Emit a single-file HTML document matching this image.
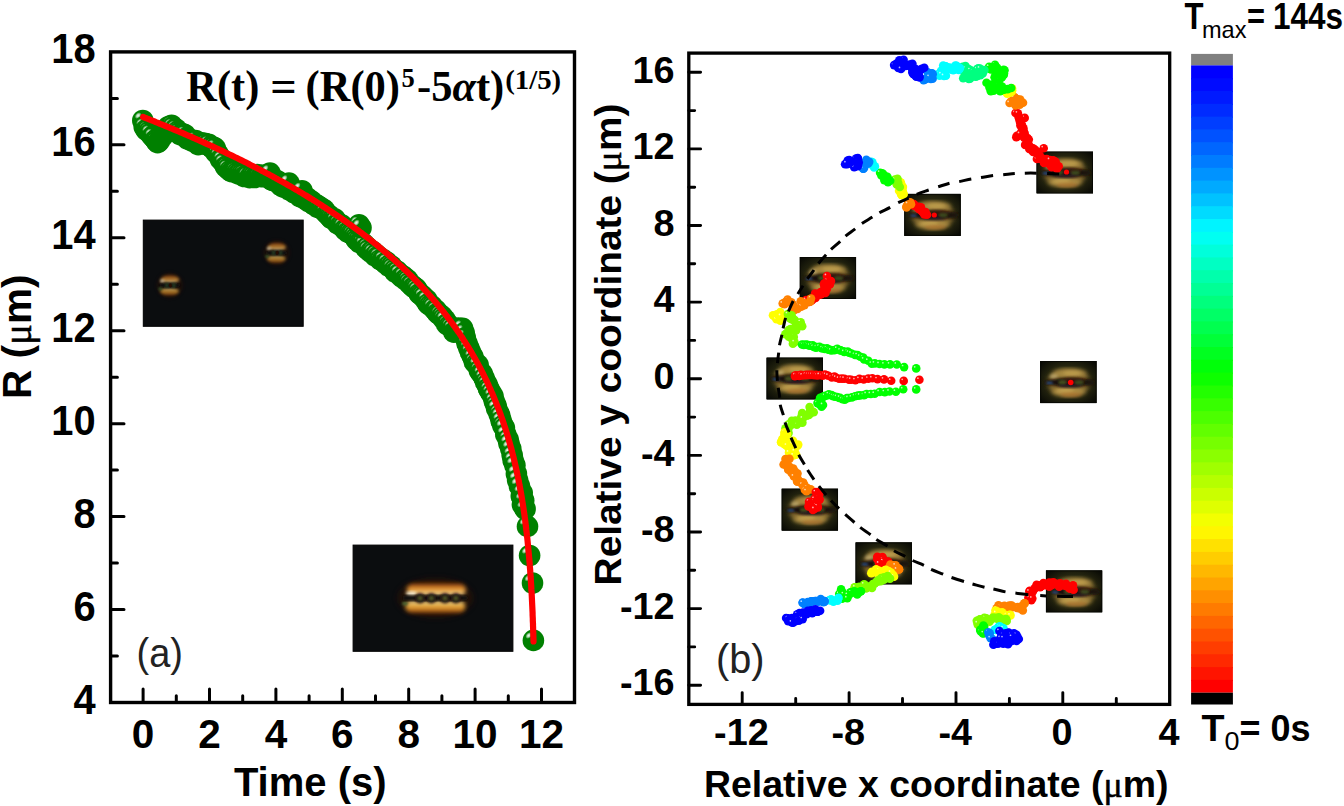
<!DOCTYPE html>
<html><head><meta charset="utf-8"><title>figure</title>
<style>html,body{margin:0;padding:0;background:#fff}svg{display:block}</style>
</head><body>
<svg width="1344" height="806" viewBox="0 0 1344 806">
<defs>
<filter id="b1" x="-30%" y="-30%" width="160%" height="160%"><feGaussianBlur stdDeviation="1"/></filter>
<filter id="b15" x="-30%" y="-30%" width="160%" height="160%"><feGaussianBlur stdDeviation="1.5"/></filter>
<filter id="b2" x="-30%" y="-30%" width="160%" height="160%"><feGaussianBlur stdDeviation="2.2"/></filter>
<filter id="b3" x="-30%" y="-30%" width="160%" height="160%"><feGaussianBlur stdDeviation="3.2"/></filter>
<filter id="b06" x="-30%" y="-30%" width="160%" height="160%"><feGaussianBlur stdDeviation="0.6"/></filter>
<radialGradient id="hg"><stop offset="0" stop-color="#fff" stop-opacity=".95"/><stop offset=".45" stop-color="#fff" stop-opacity=".7"/><stop offset="1" stop-color="#fff" stop-opacity="0"/></radialGradient>
<g id="gc"><circle r="10.8" fill="#008000"/><ellipse cx="-4.7" cy="-4.9" rx="3.9" ry="2.7" transform="rotate(-45 -4.7 -4.9)" fill="url(#hg)"/></g>
<g id="d"><circle r="4.3"/><circle cx="-1.5" cy="-1.6" r="0.85" fill="#fff" opacity=".7"/></g>
<circle id="e" r="4.3"/>
<clipPath id="ic"><rect width="56.6" height="42.2"/></clipPath>
<radialGradient id="ig" cx="50%" cy="50%" r="66%"><stop offset="0" stop-color="#45421d"/><stop offset=".5" stop-color="#2c2c12"/><stop offset="1" stop-color="#090a05"/></radialGradient>
<g id="ins" clip-path="url(#ic)"><rect width="56.6" height="42.2" fill="#0a0b05"/><rect width="56.6" height="42.2" fill="url(#ig)"/><ellipse cx="28.6" cy="21.4" rx="17.5" ry="9.4" fill="none" stroke="#7c622c" stroke-width="8" filter="url(#b2)"/><ellipse cx="29.5" cy="12.6" rx="17" ry="4.4" fill="#a98a42" filter="url(#b2)"/><ellipse cx="28.5" cy="30.6" rx="17" ry="4.6" fill="#ac8c43" filter="url(#b2)"/><ellipse cx="32" cy="12" rx="9" ry="2.2" fill="#c9a852" filter="url(#b15)" opacity=".6"/><ellipse cx="25" cy="29.8" rx="9" ry="2.2" fill="#ccaa56" filter="url(#b15)" opacity=".6"/><ellipse cx="31" cy="33.6" rx="11" ry="2.2" fill="#b06e2c" filter="url(#b15)" opacity=".6"/><ellipse cx="13.5" cy="15.5" rx="4" ry="2.8" fill="#dcc88c" filter="url(#b15)" opacity=".55"/><ellipse cx="30" cy="21.4" rx="25" ry="3.8" fill="#150c08" filter="url(#b15)"/><ellipse cx="49" cy="21.4" rx="5" ry="3.6" fill="#1a1209" filter="url(#b15)" opacity=".8"/><ellipse cx="7" cy="21.4" rx="4" ry="3" fill="#1a1209" filter="url(#b15)" opacity=".6"/><ellipse cx="33" cy="19.4" rx="12" ry="3" fill="#3c170a" filter="url(#b15)" opacity=".75"/><ellipse cx="30" cy="24.2" rx="12" ry="2.1" fill="#26122a" filter="url(#b15)" opacity=".7"/><ellipse cx="22.3" cy="21.2" rx="4.2" ry="2.3" fill="#434e1e" filter="url(#b1)"/><ellipse cx="39" cy="21.4" rx="4.6" ry="2.3" fill="#3b471b" filter="url(#b1)"/><ellipse cx="9.5" cy="21.9" rx="3.4" ry="1.2" fill="#2a5494" filter="url(#b1)" opacity=".85"/><rect x=".5" y=".5" width="55.6" height="41.2" fill="none" stroke="#070803" stroke-width="1"/></g>
<linearGradient id="bunU" x1="0" y1="0" x2="0" y2="1"><stop offset="0" stop-color="#7c2c0a"/><stop offset=".3" stop-color="#cf7a22"/><stop offset=".65" stop-color="#eeb04a"/><stop offset="1" stop-color="#f8ecc0"/></linearGradient>
<linearGradient id="bunL" x1="0" y1="0" x2="0" y2="1"><stop offset="0" stop-color="#f4e6ac"/><stop offset=".35" stop-color="#e8b040"/><stop offset=".7" stop-color="#d08424"/><stop offset="1" stop-color="#7c2c0a"/></linearGradient>
</defs>
<rect width="1344" height="806" fill="#fff"/>
<g>
<use href="#gc" x="142.8" y="120.5"/>
<use href="#gc" x="144.2" y="126.8"/>
<use href="#gc" x="146" y="129.8"/>
<use href="#gc" x="147.6" y="130"/>
<use href="#gc" x="149" y="131.7"/>
<use href="#gc" x="150.2" y="133.5"/>
<use href="#gc" x="152.4" y="136.3"/>
<use href="#gc" x="153.3" y="136.8"/>
<use href="#gc" x="155.5" y="139.8"/>
<use href="#gc" x="156.4" y="141.1"/>
<use href="#gc" x="157.6" y="142.7"/>
<use href="#gc" x="159.3" y="141"/>
<use href="#gc" x="160.6" y="137.3"/>
<use href="#gc" x="162.8" y="136.1"/>
<use href="#gc" x="164.1" y="133.3"/>
<use href="#gc" x="165.4" y="132.4"/>
<use href="#gc" x="166.6" y="130.1"/>
<use href="#gc" x="168.2" y="126.7"/>
<use href="#gc" x="169.9" y="126.9"/>
<use href="#gc" x="171.6" y="125.2"/>
<use href="#gc" x="172.8" y="127"/>
<use href="#gc" x="174.7" y="129.4"/>
<use href="#gc" x="176" y="129"/>
<use href="#gc" x="177.8" y="131.2"/>
<use href="#gc" x="178.7" y="132.9"/>
<use href="#gc" x="180.1" y="134.7"/>
<use href="#gc" x="182.2" y="133.9"/>
<use href="#gc" x="183.4" y="134.1"/>
<use href="#gc" x="185.1" y="134.7"/>
<use href="#gc" x="186.5" y="137.9"/>
<use href="#gc" x="187.7" y="139"/>
<use href="#gc" x="189.5" y="139.3"/>
<use href="#gc" x="190.9" y="139.7"/>
<use href="#gc" x="192.8" y="141.3"/>
<use href="#gc" x="194.1" y="141"/>
<use href="#gc" x="195.6" y="140.5"/>
<use href="#gc" x="197.4" y="143.2"/>
<use href="#gc" x="198.2" y="144.6"/>
<use href="#gc" x="200" y="143.6"/>
<use href="#gc" x="201.3" y="142.7"/>
<use href="#gc" x="202.5" y="143.5"/>
<use href="#gc" x="204.6" y="143.4"/>
<use href="#gc" x="205.6" y="143.9"/>
<use href="#gc" x="207.7" y="145"/>
<use href="#gc" x="208.8" y="144.4"/>
<use href="#gc" x="210.7" y="146.6"/>
<use href="#gc" x="212.2" y="148.2"/>
<use href="#gc" x="213.2" y="147.1"/>
<use href="#gc" x="215.2" y="148.1"/>
<use href="#gc" x="216" y="152.7"/>
<use href="#gc" x="217.5" y="153.1"/>
<use href="#gc" x="219.3" y="156.1"/>
<use href="#gc" x="220.6" y="159.4"/>
<use href="#gc" x="222.2" y="159.7"/>
<use href="#gc" x="223.8" y="163.1"/>
<use href="#gc" x="225.5" y="166.5"/>
<use href="#gc" x="226.9" y="166.6"/>
<use href="#gc" x="227.8" y="168.6"/>
<use href="#gc" x="230" y="170.7"/>
<use href="#gc" x="231.5" y="171.6"/>
<use href="#gc" x="232.6" y="170.9"/>
<use href="#gc" x="234.4" y="170.7"/>
<use href="#gc" x="235.3" y="171.4"/>
<use href="#gc" x="236.9" y="172.7"/>
<use href="#gc" x="238.3" y="173.8"/>
<use href="#gc" x="239.9" y="173.2"/>
<use href="#gc" x="241.6" y="174"/>
<use href="#gc" x="243.6" y="174.2"/>
<use href="#gc" x="244.3" y="176.5"/>
<use href="#gc" x="246" y="175.8"/>
<use href="#gc" x="247.3" y="176.1"/>
<use href="#gc" x="249.7" y="177.7"/>
<use href="#gc" x="250.7" y="176.5"/>
<use href="#gc" x="251.8" y="175.3"/>
<use href="#gc" x="253.4" y="176.1"/>
<use href="#gc" x="254.8" y="177.5"/>
<use href="#gc" x="257.1" y="174.6"/>
<use href="#gc" x="257.8" y="175.9"/>
<use href="#gc" x="259.2" y="175.7"/>
<use href="#gc" x="261.6" y="175.4"/>
<use href="#gc" x="262.8" y="176.8"/>
<use href="#gc" x="264" y="175.3"/>
<use href="#gc" x="265.9" y="175.3"/>
<use href="#gc" x="267.4" y="176.9"/>
<use href="#gc" x="268.3" y="176.8"/>
<use href="#gc" x="270.6" y="179.1"/>
<use href="#gc" x="271.9" y="180"/>
<use href="#gc" x="273.3" y="180.7"/>
<use href="#gc" x="274.6" y="179.7"/>
<use href="#gc" x="275.6" y="180.9"/>
<use href="#gc" x="277.3" y="180.7"/>
<use href="#gc" x="279.2" y="182.2"/>
<use href="#gc" x="280.5" y="185.3"/>
<use href="#gc" x="282.5" y="186.1"/>
<use href="#gc" x="283.4" y="187"/>
<use href="#gc" x="284.8" y="185.4"/>
<use href="#gc" x="286.2" y="186.2"/>
<use href="#gc" x="288.4" y="188.4"/>
<use href="#gc" x="289.5" y="190"/>
<use href="#gc" x="291.3" y="190.2"/>
<use href="#gc" x="292.7" y="189.3"/>
<use href="#gc" x="294.3" y="192.8"/>
<use href="#gc" x="295.5" y="193.1"/>
<use href="#gc" x="297.3" y="192.2"/>
<use href="#gc" x="298.8" y="193.6"/>
<use href="#gc" x="299.9" y="196.5"/>
<use href="#gc" x="301.9" y="195.6"/>
<use href="#gc" x="302.6" y="197.5"/>
<use href="#gc" x="304.1" y="196.5"/>
<use href="#gc" x="306.3" y="199.9"/>
<use href="#gc" x="307.8" y="198.3"/>
<use href="#gc" x="309.1" y="201.9"/>
<use href="#gc" x="310.5" y="200.8"/>
<use href="#gc" x="311.4" y="201"/>
<use href="#gc" x="313.6" y="204.7"/>
<use href="#gc" x="315.3" y="204.2"/>
<use href="#gc" x="316.8" y="205"/>
<use href="#gc" x="317.6" y="207.4"/>
<use href="#gc" x="319.2" y="206.7"/>
<use href="#gc" x="321" y="207.8"/>
<use href="#gc" x="322.3" y="209"/>
<use href="#gc" x="324.3" y="209.8"/>
<use href="#gc" x="325.3" y="212"/>
<use href="#gc" x="327.3" y="214.1"/>
<use href="#gc" x="328.8" y="215"/>
<use href="#gc" x="329.9" y="216.6"/>
<use href="#gc" x="330.9" y="218"/>
<use href="#gc" x="332.5" y="218.9"/>
<use href="#gc" x="334.6" y="218.7"/>
<use href="#gc" x="335.8" y="220.5"/>
<use href="#gc" x="337.4" y="223.5"/>
<use href="#gc" x="338.8" y="223.5"/>
<use href="#gc" x="340.6" y="225.4"/>
<use href="#gc" x="341.9" y="225.1"/>
<use href="#gc" x="343.1" y="226.7"/>
<use href="#gc" x="344.8" y="229.5"/>
<use href="#gc" x="346.5" y="229.9"/>
<use href="#gc" x="347.7" y="232.2"/>
<use href="#gc" x="349.3" y="232.4"/>
<use href="#gc" x="351" y="233.3"/>
<use href="#gc" x="352.3" y="234.4"/>
<use href="#gc" x="354.2" y="235.8"/>
<use href="#gc" x="355.6" y="237.8"/>
<use href="#gc" x="356.5" y="239.9"/>
<use href="#gc" x="358.7" y="240.1"/>
<use href="#gc" x="359.4" y="242.5"/>
<use href="#gc" x="361.2" y="241.7"/>
<use href="#gc" x="362.5" y="243"/>
<use href="#gc" x="364.4" y="244.5"/>
<use href="#gc" x="366.1" y="248.2"/>
<use href="#gc" x="367.4" y="247.3"/>
<use href="#gc" x="368.3" y="250.1"/>
<use href="#gc" x="370.7" y="252"/>
<use href="#gc" x="372.1" y="251"/>
<use href="#gc" x="373.2" y="252.8"/>
<use href="#gc" x="375" y="255.9"/>
<use href="#gc" x="376.1" y="254.4"/>
<use href="#gc" x="377.5" y="256.7"/>
<use href="#gc" x="379" y="256.8"/>
<use href="#gc" x="380.2" y="259.7"/>
<use href="#gc" x="382.1" y="260.4"/>
<use href="#gc" x="383.5" y="259.9"/>
<use href="#gc" x="385.1" y="263"/>
<use href="#gc" x="387.1" y="262.4"/>
<use href="#gc" x="388.6" y="266"/>
<use href="#gc" x="389.4" y="265"/>
<use href="#gc" x="391.4" y="266"/>
<use href="#gc" x="392.2" y="268"/>
<use href="#gc" x="394.5" y="269.7"/>
<use href="#gc" x="395.3" y="272.2"/>
<use href="#gc" x="397.5" y="271.3"/>
<use href="#gc" x="398.8" y="274"/>
<use href="#gc" x="399.6" y="273.7"/>
<use href="#gc" x="401.5" y="276.9"/>
<use href="#gc" x="403.5" y="276.3"/>
<use href="#gc" x="404.9" y="279.4"/>
<use href="#gc" x="406.4" y="278.9"/>
<use href="#gc" x="407.9" y="280.2"/>
<use href="#gc" x="408.9" y="282.8"/>
<use href="#gc" x="411" y="284.5"/>
<use href="#gc" x="411.6" y="285"/>
<use href="#gc" x="413.3" y="287.2"/>
<use href="#gc" x="414.7" y="287.3"/>
<use href="#gc" x="416.2" y="288.5"/>
<use href="#gc" x="417.8" y="290.8"/>
<use href="#gc" x="419.3" y="293.7"/>
<use href="#gc" x="420.7" y="294.4"/>
<use href="#gc" x="422" y="295.5"/>
<use href="#gc" x="423.5" y="296.8"/>
<use href="#gc" x="425.5" y="300"/>
<use href="#gc" x="426.9" y="299.9"/>
<use href="#gc" x="428.1" y="303.9"/>
<use href="#gc" x="429.9" y="305.2"/>
<use href="#gc" x="431.8" y="305.9"/>
<use href="#gc" x="432.9" y="307.3"/>
<use href="#gc" x="434.9" y="309.9"/>
<use href="#gc" x="436.3" y="310.4"/>
<use href="#gc" x="437.6" y="313.2"/>
<use href="#gc" x="438.8" y="313.9"/>
<use href="#gc" x="440" y="314.5"/>
<use href="#gc" x="442.1" y="316.2"/>
<use href="#gc" x="443.1" y="318.6"/>
<use href="#gc" x="445.2" y="319.8"/>
<use href="#gc" x="446.6" y="324.1"/>
<use href="#gc" x="447.6" y="324"/>
<use href="#gc" x="449.3" y="325.9"/>
<use href="#gc" x="450.8" y="326.9"/>
<use href="#gc" x="452.8" y="328.6"/>
<use href="#gc" x="453.9" y="332.2"/>
<use href="#gc" x="455.8" y="331.2"/>
<use href="#gc" x="456.7" y="330.9"/>
<use href="#gc" x="458.2" y="328.1"/>
<use href="#gc" x="459.8" y="329"/>
<use href="#gc" x="461.3" y="328.5"/>
<use href="#gc" x="462.6" y="328.3"/>
<use href="#gc" x="464.2" y="332.9"/>
<use href="#gc" x="465.3" y="337.7"/>
<use href="#gc" x="467" y="343.3"/>
<use href="#gc" x="468.8" y="347.8"/>
<use href="#gc" x="470.4" y="352"/>
<use href="#gc" x="472.2" y="355.6"/>
<use href="#gc" x="473.1" y="357.4"/>
<use href="#gc" x="474.4" y="362.1"/>
<use href="#gc" x="476.4" y="364.1"/>
<use href="#gc" x="478.1" y="364.9"/>
<use href="#gc" x="479.4" y="370.5"/>
<use href="#gc" x="481.1" y="373"/>
<use href="#gc" x="482.3" y="374"/>
<use href="#gc" x="484.1" y="378.1"/>
<use href="#gc" x="485.6" y="382.1"/>
<use href="#gc" x="487.1" y="384.5"/>
<use href="#gc" x="488.4" y="388"/>
<use href="#gc" x="489.2" y="389.8"/>
<use href="#gc" x="491.1" y="392.9"/>
<use href="#gc" x="493" y="396.2"/>
<use href="#gc" x="494.3" y="401.3"/>
<use href="#gc" x="495.9" y="405.1"/>
<use href="#gc" x="496.7" y="408.5"/>
<use href="#gc" x="498.9" y="413.3"/>
<use href="#gc" x="500.2" y="416.4"/>
<use href="#gc" x="501.2" y="421"/>
<use href="#gc" x="502.9" y="425.5"/>
<use href="#gc" x="504.4" y="427.8"/>
<use href="#gc" x="505.8" y="434.5"/>
<use href="#gc" x="508.1" y="439.3"/>
<use href="#gc" x="509" y="443.5"/>
<use href="#gc" x="510.8" y="448.7"/>
<use href="#gc" x="512.2" y="455.2"/>
<use href="#gc" x="513.2" y="460.6"/>
<use href="#gc" x="514.9" y="465.2"/>
<use href="#gc" x="516.4" y="473.7"/>
<use href="#gc" x="517.6" y="480.1"/>
<use href="#gc" x="519.4" y="486"/>
<use href="#gc" x="521.3" y="496"/>
<use href="#gc" x="522.4" y="504.8"/>
<use href="#gc" x="359" y="224.7"/>
<use href="#gc" x="361" y="227.7"/>
<use href="#gc" x="289" y="183.1"/>
<use href="#gc" x="302" y="190.7"/>
<use href="#gc" x="270" y="173.1"/>
<use href="#gc" x="522.2" y="493"/>
<use href="#gc" x="523.7" y="500.5"/>
<use href="#gc" x="525.1" y="509"/>
<use href="#gc" x="527.5" y="526.4"/>
<use href="#gc" x="529.6" y="555.5"/>
<use href="#gc" x="532.5" y="583"/>
<use href="#gc" x="533.4" y="640.4"/>
</g>
<path d="M533.5,641.4 L533.5,641.4 L533.5,641.3 L533.5,641.1 L533.5,640.8 L533.5,640.4 L533.5,640 L533.5,639.4 L533.4,638.8 L533.4,638 L533.4,637.2 L533.4,636.2 L533.3,635.2 L533.3,634.1 L533.3,632.8 L533.2,631.5 L533.2,630.2 L533.1,628.7 L533.1,627.2 L533,625.6 L533,623.9 L532.9,622.2 L532.8,620.5 L532.8,618.7 L532.7,616.8 L532.6,614.9 L532.6,613 L532.5,611 L532.4,609 L532.3,606.9 L532.2,604.9 L532.1,602.8 L532,600.7 L531.9,598.6 L531.8,596.4 L531.7,594.3 L531.6,592.1 L531.4,590 L531.3,587.8 L531.2,585.6 L531,583.4 L530.9,581.3 L530.8,579.1 L530.6,576.9 L530.5,574.7 L530.3,572.5 L530.2,570.3 L530,568.1 L529.8,566 L529.7,563.8 L529.5,561.6 L529.3,559.4 L529.1,557.3 L528.9,555.1 L528.7,553 L528.5,550.9 L528.3,548.7 L528.1,546.6 L527.9,544.5 L527.7,542.4 L527.5,540.3 L527.3,538.2 L527,536.1 L526.8,534 L526.6,532 L526.3,529.9 L526.1,527.9 L525.8,525.8 L525.6,523.8 L525.3,521.8 L525.1,519.8 L524.8,517.8 L524.5,515.8 L524.3,513.8 L524,511.9 L523.7,509.9 L523.4,507.9 L523.1,506 L522.8,504.1 L522.5,502.1 L522.2,500.2 L521.9,498.3 L521.6,496.4 L521.2,494.5 L520.9,492.6 L520.6,490.8 L520.2,488.9 L519.9,487 L519.5,485.2 L519.2,483.4 L518.8,481.5 L518.5,479.7 L518.1,477.9 L517.7,476.1 L517.4,474.3 L517,472.5 L516.6,470.7 L516.2,469 L515.8,467.2 L515.4,465.4 L515,463.7 L514.6,462 L514.2,460.2 L513.8,458.5 L513.4,456.8 L512.9,455.1 L512.5,453.4 L512,451.7 L511.6,450 L511.2,448.3 L510.7,446.6 L510.2,445 L509.8,443.3 L509.3,441.6 L508.8,440 L508.4,438.4 L507.9,436.7 L507.4,435.1 L506.9,433.5 L506.4,431.9 L505.9,430.3 L505.4,428.7 L504.9,427.1 L504.3,425.5 L503.8,423.9 L503.3,422.3 L502.8,420.8 L502.2,419.2 L501.7,417.6 L501.1,416.1 L500.6,414.5 L500,413 L499.4,411.5 L498.9,409.9 L498.3,408.4 L497.7,406.9 L497.1,405.4 L496.5,403.9 L495.9,402.4 L495.3,400.9 L494.7,399.4 L494.1,397.9 L493.5,396.4 L492.9,395 L492.3,393.5 L491.6,392 L491,390.6 L490.3,389.1 L489.7,387.7 L489,386.2 L488.4,384.8 L487.7,383.4 L487.1,381.9 L486.4,380.5 L485.7,379.1 L485,377.7 L484.3,376.3 L483.6,374.9 L482.9,373.5 L482.2,372.1 L481.5,370.7 L480.8,369.3 L480.1,367.9 L479.3,366.5 L478.6,365.2 L477.9,363.8 L477.1,362.4 L476.4,361.1 L475.6,359.7 L474.8,358.4 L474.1,357 L473.3,355.7 L472.5,354.3 L471.8,353 L471,351.7 L470.2,350.3 L469.4,349 L468.6,347.7 L467.8,346.4 L466.9,345.1 L466.1,343.8 L465.3,342.5 L464.5,341.2 L463.6,339.9 L462.8,338.6 L461.9,337.3 L461.1,336 L460.2,334.7 L459.4,333.4 L458.5,332.2 L457.6,330.9 L456.7,329.6 L455.8,328.4 L454.9,327.1 L454,325.8 L453.1,324.6 L452.2,323.3 L451.3,322.1 L450.4,320.8 L449.5,319.6 L448.5,318.4 L447.6,317.1 L446.7,315.9 L445.7,314.7 L444.8,313.5 L443.8,312.2 L442.8,311 L441.9,309.8 L440.9,308.6 L439.9,307.4 L438.9,306.2 L437.9,305 L436.9,303.8 L435.9,302.6 L434.9,301.4 L433.9,300.2 L432.9,299 L431.8,297.8 L430.8,296.7 L429.8,295.5 L428.7,294.3 L427.7,293.1 L426.6,292 L425.5,290.8 L424.5,289.6 L423.4,288.5 L422.3,287.3 L421.2,286.2 L420.2,285 L419.1,283.9 L418,282.7 L416.8,281.6 L415.7,280.4 L414.6,279.3 L413.5,278.1 L412.4,277 L411.2,275.9 L410.1,274.8 L408.9,273.6 L407.8,272.5 L406.6,271.4 L405.4,270.3 L404.3,269.2 L403.1,268 L401.9,266.9 L400.7,265.8 L399.5,264.7 L398.3,263.6 L397.1,262.5 L395.9,261.4 L394.7,260.3 L393.5,259.2 L392.2,258.1 L391,257 L389.8,256 L388.5,254.9 L387.3,253.8 L386,252.7 L384.7,251.6 L383.5,250.6 L382.2,249.5 L380.9,248.4 L379.6,247.3 L378.3,246.3 L377,245.2 L375.7,244.1 L374.4,243.1 L373.1,242 L371.7,241 L370.4,239.9 L369.1,238.9 L367.7,237.8 L366.4,236.8 L365,235.7 L363.7,234.7 L362.3,233.6 L360.9,232.6 L359.6,231.6 L358.2,230.5 L356.8,229.5 L355.4,228.5 L354,227.4 L352.6,226.4 L351.2,225.4 L349.7,224.4 L348.3,223.4 L346.9,222.3 L345.4,221.3 L344,220.3 L342.5,219.3 L341.1,218.3 L339.6,217.3 L338.2,216.3 L336.7,215.3 L335.2,214.3 L333.7,213.3 L332.2,212.3 L330.7,211.3 L329.2,210.3 L327.7,209.3 L326.2,208.3 L324.7,207.3 L323.1,206.3 L321.6,205.3 L320.1,204.3 L318.5,203.3 L317,202.4 L315.4,201.4 L313.8,200.4 L312.3,199.4 L310.7,198.5 L309.1,197.5 L307.5,196.5 L305.9,195.5 L304.3,194.6 L302.7,193.6 L301.1,192.6 L299.5,191.7 L297.8,190.7 L296.2,189.8 L294.6,188.8 L292.9,187.8 L291.3,186.9 L289.6,185.9 L287.9,185 L286.3,184 L284.6,183.1 L282.9,182.1 L281.2,181.2 L279.5,180.3 L277.8,179.3 L276.1,178.4 L274.4,177.4 L272.7,176.5 L270.9,175.6 L269.2,174.6 L267.5,173.7 L265.7,172.8 L264,171.8 L262.2,170.9 L260.5,170 L258.7,169.1 L256.9,168.1 L255.1,167.2 L253.3,166.3 L251.5,165.4 L249.7,164.5 L247.9,163.5 L246.1,162.6 L244.3,161.7 L242.5,160.8 L240.6,159.9 L238.8,159 L237,158.1 L235.1,157.2 L233.3,156.3 L231.4,155.4 L229.5,154.5 L227.6,153.6 L225.8,152.7 L223.9,151.8 L222,150.9 L220.1,150 L218.2,149.1 L216.3,148.2 L214.3,147.3 L212.4,146.4 L210.5,145.5 L208.5,144.6 L206.6,143.8 L204.6,142.9 L202.7,142 L200.7,141.1 L198.7,140.2 L196.8,139.4 L194.8,138.5 L192.8,137.6 L190.8,136.7 L188.8,135.9 L186.8,135 L184.8,134.1 L182.7,133.2 L180.7,132.4 L178.7,131.5 L176.6,130.6 L174.6,129.8 L172.5,128.9 L170.5,128.1 L168.4,127.2 L166.3,126.3 L164.3,125.5 L162.2,124.6 L160.1,123.8 L158,122.9 L155.9,122.1 L153.8,121.2 L151.6,120.4 L149.5,119.5 L147.4,118.7 L145.2,117.8 L143.1,117" fill="none" stroke="#f00" stroke-width="6.2" stroke-linecap="round" stroke-linejoin="round"/>
<g><rect x="143.3" y="220.1" width="159.9" height="106.2" fill="#0b0d0f" stroke="#000" stroke-width="1"/>
<g transform="translate(169.8 285.3) scale(.95) translate(-169.8 -285.3)" opacity=".88"><ellipse cx="169.8" cy="285.3" rx="13" ry="12.5" fill="#3a1406" opacity=".55" filter="url(#b2)"/><ellipse cx="170.1" cy="279.1" rx="9.6" ry="4.5" fill="url(#bunU)" filter="url(#b15)" opacity=".82"/><ellipse cx="169.5" cy="291.6" rx="9.9" ry="4.3" fill="url(#bunL)" filter="url(#b15)" opacity=".8"/><ellipse cx="161.8" cy="280.9" rx="2.5" ry="2.3" fill="#e6d4b4" filter="url(#b1)" opacity=".7"/><ellipse cx="169.8" cy="285.3" rx="11.5" ry="2.8" fill="#0c0c0c" filter="url(#b1)"/><ellipse cx="166.6" cy="285.3" rx="2" ry="2.7" fill="#2f4a27" filter="url(#b1)" opacity=".85"/><ellipse cx="174" cy="285.3" rx="2" ry="2.7" fill="#2f4a27" filter="url(#b1)" opacity=".85"/><ellipse cx="170.4" cy="285.3" rx="1.5" ry="2.2" fill="#2a0d06" filter="url(#b06)"/><ellipse cx="159.8" cy="288.9" rx="2.4" ry="1.6" fill="#3d7034" filter="url(#b1)" opacity=".7"/></g>
<g transform="translate(276.6 252.8) scale(.95) translate(-276.6 -252.8)" opacity=".88"><ellipse cx="276.6" cy="252.8" rx="13" ry="12.5" fill="#3a1406" opacity=".55" filter="url(#b2)"/><ellipse cx="276.9" cy="246.6" rx="9.6" ry="4.5" fill="url(#bunU)" filter="url(#b15)" opacity=".82"/><ellipse cx="276.3" cy="259.1" rx="9.9" ry="4.3" fill="url(#bunL)" filter="url(#b15)" opacity=".8"/><ellipse cx="268.6" cy="248.4" rx="2.5" ry="2.3" fill="#e6d4b4" filter="url(#b1)" opacity=".7"/><ellipse cx="276.6" cy="252.8" rx="11.5" ry="2.8" fill="#0c0c0c" filter="url(#b1)"/><ellipse cx="273.4" cy="252.8" rx="2" ry="2.7" fill="#2f4a27" filter="url(#b1)" opacity=".85"/><ellipse cx="280.8" cy="252.8" rx="2" ry="2.7" fill="#2f4a27" filter="url(#b1)" opacity=".85"/><ellipse cx="277.2" cy="252.8" rx="1.5" ry="2.2" fill="#2a0d06" filter="url(#b06)"/><ellipse cx="266.6" cy="256.4" rx="2.4" ry="1.6" fill="#3d7034" filter="url(#b1)" opacity=".7"/></g>
</g>
<g><rect x="353.1" y="545.1" width="159.8" height="106.2" fill="#0b0d0f" stroke="#000" stroke-width="1"/>
<ellipse cx="435.3" cy="598" rx="37" ry="19" fill="#3a1206" opacity=".6" filter="url(#b3)"/>
<rect x="406.8" y="583.6" width="59" height="12.4" rx="6.2" ry="6.2" fill="url(#bunU)" filter="url(#b2)"/>
<rect x="405.3" y="600.4" width="60" height="12.4" rx="6.2" ry="6.2" fill="url(#bunL)" filter="url(#b2)"/>
<ellipse cx="411.3" cy="593.6" rx="5.5" ry="2.2" fill="#f8f0dc" filter="url(#b15)" opacity=".9"/>
<ellipse cx="404.8" cy="603.5" rx="3" ry="2" fill="#4c6a34" filter="url(#b1)" opacity=".8"/>
<rect x="402.8" y="595.5" width="65" height="5" rx="2.5" fill="#0d0b0b" filter="url(#b15)"/>
<circle cx="420.1" cy="598.2" r="5" fill="#1d0a10" filter="url(#b15)"/>
<circle cx="420.1" cy="598.2" r="2.6" fill="#4c5825" filter="url(#b15)"/>
<circle cx="431.4" cy="598.2" r="5" fill="#1d0a10" filter="url(#b15)"/>
<circle cx="431.4" cy="598.2" r="2.6" fill="#4c5825" filter="url(#b15)"/>
<circle cx="445" cy="598.2" r="5" fill="#1d0a10" filter="url(#b15)"/>
<circle cx="445" cy="598.2" r="2.6" fill="#4c5825" filter="url(#b15)"/>
<circle cx="455.9" cy="598.2" r="5" fill="#1d0a10" filter="url(#b15)"/>
<circle cx="455.9" cy="598.2" r="2.6" fill="#4c5825" filter="url(#b15)"/>
</g>
<g stroke="#000" stroke-width="3.3" fill="none" stroke-linecap="butt">
<rect x="110.6" y="51.9" width="463.9" height="650.6" stroke-width="3.4"/>
<path d="M143.1,702.5 v-13.4 M176.3,702.5 v-6.8 M209.5,702.5 v-13.4 M242.7,702.5 v-6.8 M275.9,702.5 v-13.4 M309.1,702.5 v-6.8 M342.3,702.5 v-13.4 M375.5,702.5 v-6.8 M408.7,702.5 v-13.4 M441.9,702.5 v-6.8 M475.1,702.5 v-13.4 M508.3,702.5 v-6.8 M541.5,702.5 v-13.4 M110.6,656 h6.8 M110.6,609.6 h13.4 M110.6,563.1 h6.8 M110.6,516.6 h13.4 M110.6,470.1 h6.8 M110.6,423.7 h13.4 M110.6,377.2 h6.8 M110.6,330.7 h13.4 M110.6,284.3 h6.8 M110.6,237.8 h13.4 M110.6,191.3 h6.8 M110.6,144.8 h13.4 M110.6,98.4 h6.8" stroke-linecap="round" stroke-width="3"/>
</g>
<g font-family="Liberation Sans, sans-serif" font-weight="bold" font-size="40.5" fill="#000">
<text transform="translate(95.6 713.7) scale(.95 1)" font-size="42" text-anchor="end">4</text>
<text transform="translate(95.6 620.8) scale(.95 1)" font-size="42" text-anchor="end">6</text>
<text transform="translate(95.6 527.8) scale(.95 1)" font-size="42" text-anchor="end">8</text>
<text transform="translate(95.6 434.9) scale(.95 1)" font-size="42" text-anchor="end">10</text>
<text transform="translate(95.6 341.9) scale(.95 1)" font-size="42" text-anchor="end">12</text>
<text transform="translate(95.6 249) scale(.95 1)" font-size="42" text-anchor="end">14</text>
<text transform="translate(95.6 156) scale(.95 1)" font-size="42" text-anchor="end">16</text>
<text transform="translate(95.6 63.1) scale(.95 1)" font-size="42" text-anchor="end">18</text>
<text x="143.1" y="748.2" text-anchor="middle">0</text>
<text x="209.5" y="748.2" text-anchor="middle">2</text>
<text x="275.9" y="748.2" text-anchor="middle">4</text>
<text x="342.3" y="748.2" text-anchor="middle">6</text>
<text x="408.7" y="748.2" text-anchor="middle">8</text>
<text x="475.1" y="748.2" text-anchor="middle">10</text>
<text x="541.5" y="748.2" text-anchor="middle">12</text>
<text x="233.9" y="795.5" font-size="40">Time (s)</text>
<text transform="translate(30.9 399) rotate(-90)" font-size="40.5">R (<tspan font-weight="normal" font-family="Liberation Serif, serif" font-size="39" stroke="#000" stroke-width=".5">μ</tspan>m)</text>
</g>
<text x="136.6" y="666.8" font-family="Liberation Sans, sans-serif" font-size="40" fill="#222" textLength="46.4" lengthAdjust="spacingAndGlyphs">(a)</text>
<g font-family="Liberation Serif, serif" font-weight="bold" fill="#000" font-size="42.5" transform="translate(0 101.4) scale(1 1.04) translate(0 -101.4)">
<text x="186.3" y="101.4" textLength="73" lengthAdjust="spacingAndGlyphs">R(t)</text>
<text x="270.3" y="101.4" textLength="26.5" lengthAdjust="spacingAndGlyphs">=</text>
<text x="305.6" y="101.4">(R(0)</text>
<text x="401.6" y="88" font-size="26.5">5</text>
<text x="417" y="101.4">-5<tspan font-style="italic">α</tspan>t)</text>
<text x="505.2" y="89" font-size="27" textLength="56" lengthAdjust="spacingAndGlyphs">(1/5)</text>
</g>
<use href="#ins" x="1036.4" y="151.4"/>
<use href="#ins" x="904.2" y="193.7"/>
<use href="#ins" x="799.6" y="256.9"/>
<use href="#ins" x="766.4" y="357.4"/>
<use href="#ins" x="781.5" y="488.5"/>
<use href="#ins" x="855.4" y="542.3"/>
<use href="#ins" x="1045.8" y="570.3"/>
<use href="#ins" x="1040.1" y="361"/>
<circle cx="1066.5" cy="172" r="2.6" fill="#f00"/>
<g fill="#ff0000">
<use href="#d" x="1057" y="168.8"/><use href="#e" x="1056.8" y="168.4"/><use href="#e" x="1057.1" y="166.9"/><use href="#d" x="1058.7" y="166.2"/><use href="#e" x="1055.8" y="166.1"/><use href="#e" x="1054.7" y="161.7"/><use href="#d" x="1050.9" y="164.7"/><use href="#e" x="1051.7" y="167.1"/><use href="#e" x="1050.1" y="164.9"/><use href="#d" x="1049.5" y="163.7"/><use href="#e" x="1048" y="161.5"/><use href="#e" x="1046.8" y="159.5"/><use href="#d" x="1046.6" y="159"/><use href="#e" x="1044" y="162.9"/><use href="#e" x="1042.1" y="159.3"/><use href="#d" x="1042.9" y="158.7"/><use href="#e" x="1038.8" y="158.5"/><use href="#e" x="1039.6" y="158.6"/><use href="#d" x="1036.9" y="159"/><use href="#e" x="1039.7" y="155.4"/><use href="#e" x="1036.9" y="153.6"/><use href="#d" x="1037.8" y="152.1"/><use href="#e" x="1036" y="151.3"/><use href="#e" x="1033.1" y="152"/><use href="#d" x="1035.2" y="149.8"/><use href="#e" x="1031.5" y="150"/><use href="#e" x="1031.6" y="148.2"/><use href="#d" x="1033.1" y="148.3"/><use href="#e" x="1029.3" y="148.9"/><use href="#e" x="1029.3" y="145.6"/><use href="#d" x="1027.5" y="143.3"/><use href="#e" x="1025.1" y="144.9"/><use href="#e" x="1028.8" y="139.5"/><use href="#d" x="1024.1" y="137.6"/><use href="#e" x="1027.5" y="138"/><use href="#e" x="1025.2" y="137"/><use href="#d" x="1024.7" y="134.6"/><use href="#e" x="1024.4" y="132.9"/><use href="#e" x="1023.7" y="134.1"/><use href="#d" x="1024" y="132.1"/><use href="#e" x="1021.6" y="131.4"/><use href="#e" x="1021.9" y="132.1"/><use href="#d" x="1023.5" y="128.4"/><use href="#e" x="1021.4" y="126.2"/><use href="#e" x="1020.4" y="125.4"/><use href="#d" x="1022" y="125.3"/><use href="#e" x="1022.1" y="126.3"/><use href="#e" x="1020" y="121.9"/><use href="#d" x="1024.7" y="117.9"/><use href="#e" x="1019.4" y="119.6"/><use href="#e" x="1019.9" y="118.7"/><use href="#d" x="1018.8" y="117.4"/><use href="#e" x="1018.8" y="116.7"/><use href="#d" x="1015.5" y="113"/><use href="#d" x="1017.9" y="113.4"/>
</g>
<g fill="#ff0000">
<use href="#d" x="1043.7" y="148.2"/>
</g>
<g fill="#ff0000">
<use href="#d" x="1016.9" y="135.8"/><use href="#e" x="1016.3" y="137.2"/><use href="#e" x="1017.8" y="136.3"/><use href="#d" x="1020.8" y="134.8"/><use href="#d" x="1020" y="134"/>
</g>
<g fill="#ff0000">
<use href="#d" x="1055.7" y="161.8"/><use href="#e" x="1051.7" y="161.5"/><use href="#e" x="1053.2" y="160.2"/><use href="#d" x="1051.1" y="161.6"/><use href="#d" x="1050" y="160"/>
</g>
<g fill="#ff8000">
<use href="#d" x="1015.6" y="105.4"/><use href="#e" x="1018.4" y="103.1"/><use href="#e" x="1014.7" y="103.1"/><use href="#d" x="1015.5" y="103.1"/><use href="#e" x="1013.4" y="101.1"/><use href="#e" x="1010.9" y="101.5"/><use href="#d" x="1009.6" y="103"/><use href="#e" x="1014.7" y="97.8"/><use href="#e" x="1015.7" y="99.5"/><use href="#d" x="1016.4" y="99.6"/><use href="#e" x="1014.7" y="99.3"/><use href="#e" x="1020.2" y="99.6"/><use href="#d" x="1017.6" y="99.2"/><use href="#e" x="1018.4" y="102.5"/><use href="#e" x="1023" y="102.8"/><use href="#d" x="1019.8" y="104.7"/><use href="#e" x="1017.6" y="99.7"/><use href="#e" x="1018" y="100.6"/><use href="#d" x="1014.7" y="97.3"/><use href="#d" x="1015.5" y="98.6"/><use href="#d" x="1014" y="97.5"/>
</g>
<g fill="#ffff00">
<use href="#d" x="1012" y="88.3"/><use href="#e" x="1012.1" y="90.2"/><use href="#e" x="1011.7" y="90.2"/><use href="#d" x="1010.3" y="92.8"/><use href="#e" x="1011.8" y="91.5"/><use href="#e" x="1009.7" y="91.2"/><use href="#d" x="1007.2" y="93.7"/><use href="#d" x="1007" y="92.6"/>
</g>
<g fill="#00ff00">
<use href="#d" x="1011.2" y="88"/><use href="#e" x="1007.6" y="89.1"/><use href="#e" x="1004.2" y="89"/><use href="#d" x="1004" y="89.8"/><use href="#e" x="1002" y="86.6"/><use href="#e" x="1002.4" y="90"/><use href="#d" x="1000.2" y="91.1"/><use href="#e" x="999.3" y="89"/><use href="#e" x="999.1" y="87.3"/><use href="#d" x="996.1" y="89.2"/><use href="#e" x="997" y="88.7"/><use href="#e" x="994.9" y="87.7"/><use href="#d" x="993.6" y="90.7"/><use href="#e" x="990.8" y="91.3"/><use href="#e" x="989.7" y="87.2"/><use href="#d" x="989.8" y="88"/><use href="#e" x="986.5" y="82.8"/><use href="#e" x="989.9" y="86.4"/><use href="#d" x="991.2" y="88.5"/><use href="#e" x="991.8" y="84.5"/><use href="#e" x="994.1" y="84.1"/><use href="#d" x="996.4" y="81.2"/><use href="#e" x="994.6" y="77.3"/><use href="#e" x="997.5" y="81.1"/><use href="#d" x="998.8" y="84.1"/><use href="#e" x="998.6" y="79.9"/><use href="#e" x="998.8" y="78.1"/><use href="#d" x="999.5" y="79.2"/><use href="#e" x="1001.3" y="77.3"/><use href="#e" x="1001.8" y="77.5"/><use href="#d" x="1003.7" y="74.9"/><use href="#e" x="1004" y="73.5"/><use href="#e" x="1001.3" y="74.5"/><use href="#d" x="1003.7" y="69.7"/><use href="#e" x="1004.5" y="70.3"/><use href="#e" x="999.4" y="72.7"/><use href="#d" x="1000.9" y="72.2"/><use href="#e" x="999.5" y="71.3"/><use href="#e" x="995.7" y="73.4"/><use href="#d" x="997.4" y="70.3"/><use href="#e" x="997.3" y="69.7"/><use href="#e" x="997.2" y="67.8"/><use href="#d" x="995" y="64.7"/><use href="#e" x="993.1" y="68.6"/><use href="#e" x="994.3" y="66.8"/><use href="#d" x="990.9" y="69.4"/><use href="#d" x="989.3" y="68"/><use href="#d" x="989.1" y="66.8"/>
</g>
<g fill="#00ff80">
<use href="#d" x="984.4" y="70.1"/><use href="#e" x="983.2" y="70.2"/><use href="#e" x="981.1" y="72.3"/><use href="#d" x="980.4" y="75.3"/><use href="#e" x="982.7" y="73.5"/><use href="#e" x="977.3" y="76"/><use href="#d" x="975.5" y="76.8"/><use href="#e" x="976.7" y="76.3"/><use href="#e" x="975.3" y="74.7"/><use href="#d" x="974.3" y="74.8"/><use href="#e" x="970.9" y="76.5"/><use href="#e" x="970" y="78.7"/><use href="#d" x="969.4" y="76.6"/><use href="#e" x="968.8" y="79"/><use href="#e" x="966.7" y="76.8"/><use href="#d" x="967.3" y="76.2"/><use href="#e" x="963.2" y="78.2"/><use href="#e" x="967.9" y="70.4"/><use href="#d" x="964.3" y="72.6"/><use href="#e" x="965.4" y="71.6"/><use href="#e" x="963.3" y="67.8"/><use href="#d" x="963.5" y="69.5"/><use href="#e" x="962.7" y="66.8"/><use href="#e" x="965.5" y="66"/><use href="#d" x="966.4" y="68.8"/><use href="#e" x="968.6" y="69"/><use href="#e" x="968" y="69.9"/><use href="#d" x="970.4" y="70.1"/><use href="#e" x="971.7" y="72.6"/><use href="#e" x="974.7" y="74.5"/><use href="#d" x="973.1" y="71.8"/><use href="#e" x="971.7" y="74.4"/><use href="#e" x="975.4" y="70.8"/><use href="#d" x="978.3" y="68.2"/><use href="#e" x="979.4" y="69.3"/><use href="#d" x="977.2" y="69.1"/><use href="#d" x="980" y="68.5"/>
</g>
<g fill="#00ffff">
<use href="#d" x="960" y="68.1"/><use href="#e" x="958.7" y="70"/><use href="#e" x="957.5" y="69.2"/><use href="#d" x="957.9" y="67.1"/><use href="#e" x="956.5" y="65.8"/><use href="#e" x="955.4" y="65.5"/><use href="#d" x="953.2" y="70.1"/><use href="#e" x="953.1" y="68.3"/><use href="#e" x="949.7" y="67.5"/><use href="#d" x="950.4" y="69.5"/><use href="#e" x="949.5" y="68.4"/><use href="#e" x="947.5" y="69.3"/><use href="#d" x="945.7" y="66.2"/><use href="#e" x="946.2" y="66.8"/><use href="#e" x="943.2" y="65.5"/><use href="#d" x="943.7" y="68.3"/><use href="#e" x="945.2" y="66.8"/><use href="#e" x="946" y="70"/><use href="#d" x="944.5" y="72.1"/><use href="#e" x="944.3" y="70.3"/><use href="#e" x="944.5" y="72.4"/><use href="#d" x="941.1" y="70.8"/><use href="#e" x="939.7" y="73.6"/><use href="#e" x="939.8" y="73.3"/><use href="#d" x="939.2" y="74"/><use href="#e" x="942.9" y="70.4"/><use href="#e" x="939.6" y="75.6"/><use href="#d" x="941.4" y="74.3"/><use href="#d" x="945.9" y="75.8"/><use href="#d" x="944" y="76"/>
</g>
<g fill="#0080ff">
<use href="#d" x="932.1" y="73.4"/><use href="#e" x="930.8" y="74.5"/><use href="#e" x="931.2" y="73.6"/><use href="#d" x="932.7" y="74.2"/><use href="#e" x="927.7" y="72.2"/><use href="#e" x="931.9" y="76.7"/><use href="#d" x="929.8" y="77.9"/><use href="#e" x="932.6" y="78.7"/><use href="#e" x="927.7" y="77.5"/><use href="#d" x="930.9" y="78.9"/><use href="#e" x="929.5" y="74.2"/><use href="#e" x="927.1" y="78.4"/><use href="#d" x="929.5" y="77"/><use href="#e" x="924.3" y="79.3"/><use href="#d" x="925" y="79.5"/><use href="#d" x="923.6" y="80.2"/>
</g>
<g fill="#0000ff">
<use href="#d" x="924.3" y="67.7"/><use href="#e" x="921.9" y="68.9"/><use href="#e" x="920.7" y="69.5"/><use href="#d" x="917.1" y="72.9"/><use href="#e" x="918.8" y="71.4"/><use href="#e" x="918" y="74.6"/><use href="#d" x="916.7" y="74.2"/><use href="#e" x="919.3" y="76.5"/><use href="#e" x="918.5" y="73.9"/><use href="#d" x="919.5" y="77.5"/><use href="#e" x="916.3" y="76.6"/><use href="#e" x="915.8" y="75.9"/><use href="#d" x="913.6" y="74.1"/><use href="#e" x="914" y="73"/><use href="#e" x="912.9" y="73.5"/><use href="#d" x="912.4" y="72.2"/><use href="#e" x="912.5" y="70.4"/><use href="#e" x="915.4" y="68.9"/><use href="#d" x="911.9" y="67.5"/><use href="#e" x="912.4" y="63.8"/><use href="#e" x="910.4" y="65.6"/><use href="#d" x="909.6" y="64.5"/><use href="#e" x="910.3" y="65.2"/><use href="#e" x="909.5" y="65.7"/><use href="#d" x="906.6" y="65.6"/><use href="#e" x="905.5" y="65.9"/><use href="#e" x="904.6" y="64.4"/><use href="#d" x="903.3" y="66"/><use href="#e" x="901.3" y="65.1"/><use href="#e" x="902.4" y="64.1"/><use href="#d" x="903.6" y="59.7"/><use href="#e" x="899.3" y="60.4"/><use href="#e" x="900.1" y="67.8"/><use href="#d" x="894.1" y="65.1"/><use href="#e" x="897.5" y="65.4"/><use href="#e" x="896.6" y="63.6"/><use href="#d" x="898.3" y="67.9"/><use href="#e" x="898.4" y="67"/><use href="#e" x="900.5" y="67.7"/><use href="#d" x="901.1" y="68.2"/><use href="#d" x="901" y="69"/>
</g>
<circle cx="934.3" cy="215" r="2.6" fill="#f00"/>
<g fill="#ff0000">
<use href="#d" x="924.3" y="214.4"/><use href="#e" x="927" y="214.7"/><use href="#e" x="924.3" y="212.6"/><use href="#d" x="925.5" y="212.1"/><use href="#e" x="925.4" y="214"/><use href="#e" x="921" y="207.4"/><use href="#d" x="922.4" y="212"/><use href="#e" x="921.3" y="210.5"/><use href="#e" x="917.7" y="207.7"/><use href="#d" x="918.8" y="206.7"/><use href="#e" x="913.8" y="205.6"/><use href="#e" x="919.3" y="209.1"/><use href="#d" x="913.6" y="204.1"/><use href="#d" x="913.8" y="204.4"/>
</g>
<g fill="#ff8000">
<use href="#d" x="910.2" y="202.3"/><use href="#e" x="911" y="204.3"/><use href="#e" x="906.5" y="207.4"/><use href="#d" x="906.4" y="206.8"/><use href="#e" x="907.1" y="205.9"/><use href="#d" x="908.1" y="204"/><use href="#d" x="908" y="204"/>
</g>
<g fill="#ffff00">
<use href="#d" x="901.1" y="194.2"/><use href="#e" x="901.7" y="195.1"/><use href="#e" x="903.2" y="195"/><use href="#d" x="903.7" y="193.8"/><use href="#e" x="901.4" y="191.2"/><use href="#e" x="899.1" y="190.7"/><use href="#d" x="902.6" y="190.4"/><use href="#e" x="901.5" y="188.1"/><use href="#e" x="902.9" y="187"/><use href="#d" x="902.4" y="186.5"/><use href="#e" x="901.5" y="186.3"/><use href="#d" x="900.1" y="182.4"/><use href="#d" x="900.9" y="182.6"/>
</g>
<g fill="#80ff00">
<use href="#d" x="896.8" y="184.4"/><use href="#e" x="899.8" y="187"/><use href="#e" x="897" y="184"/><use href="#d" x="898.2" y="183.1"/><use href="#d" x="897.5" y="178.8"/><use href="#d" x="895" y="179.6"/>
</g>
<g fill="#00ff00">
<use href="#d" x="888" y="182.3"/><use href="#e" x="890.2" y="180.8"/><use href="#e" x="885.8" y="179.2"/><use href="#d" x="885.1" y="177.4"/><use href="#e" x="887.4" y="176.8"/><use href="#e" x="884.3" y="180.1"/><use href="#d" x="885" y="176.4"/><use href="#e" x="881.4" y="175.5"/><use href="#e" x="883.8" y="174.9"/><use href="#d" x="882.3" y="173.2"/><use href="#d" x="880.1" y="172.7"/>
</g>
<g fill="#00ffff">
<use href="#d" x="874.9" y="166.4"/><use href="#e" x="874.1" y="167.5"/><use href="#e" x="870.6" y="164.3"/><use href="#d" x="872.4" y="162.4"/><use href="#d" x="870.9" y="163.2"/><use href="#d" x="871.2" y="161.8"/>
</g>
<g fill="#0080ff">
<use href="#d" x="869.2" y="161.7"/><use href="#e" x="866.3" y="159.8"/><use href="#e" x="868.3" y="163.5"/><use href="#d" x="865" y="163"/><use href="#e" x="864.5" y="164.3"/><use href="#e" x="864.1" y="167.8"/><use href="#d" x="863.4" y="168.8"/><use href="#d" x="863.2" y="168.7"/>
</g>
<g fill="#0000ff">
<use href="#d" x="858" y="164.9"/><use href="#e" x="857.7" y="158.9"/><use href="#e" x="857.8" y="159.2"/><use href="#d" x="856" y="158.6"/><use href="#e" x="857.8" y="158"/><use href="#e" x="857.3" y="163.2"/><use href="#d" x="858.7" y="162.2"/><use href="#e" x="858" y="163.6"/><use href="#e" x="857.8" y="166.2"/><use href="#d" x="857.5" y="162.2"/><use href="#e" x="856.4" y="163.9"/><use href="#e" x="856.2" y="163.7"/><use href="#d" x="854.2" y="167.3"/><use href="#e" x="851.1" y="162"/><use href="#e" x="849.2" y="160"/><use href="#d" x="847.2" y="164.1"/><use href="#e" x="847.7" y="160.6"/><use href="#d" x="845.1" y="164.3"/><use href="#d" x="846.4" y="163.3"/>
</g>
<g fill="#ff0000">
<use href="#d" x="826.9" y="276"/><use href="#e" x="828.5" y="280.4"/><use href="#e" x="831" y="281.1"/><use href="#d" x="827.3" y="280.9"/><use href="#e" x="829.9" y="284.4"/><use href="#e" x="825.7" y="283.9"/><use href="#d" x="826.3" y="284.5"/><use href="#e" x="824.5" y="283.3"/><use href="#e" x="824" y="284.2"/><use href="#d" x="826.7" y="289.2"/><use href="#e" x="821.6" y="291.9"/><use href="#e" x="824.5" y="287"/><use href="#d" x="825.4" y="292.9"/><use href="#e" x="824.9" y="290.2"/><use href="#e" x="821.3" y="294.3"/><use href="#d" x="819.8" y="294.8"/><use href="#e" x="820.2" y="292.6"/><use href="#e" x="815" y="293.5"/><use href="#d" x="815.1" y="295.7"/><use href="#e" x="815.6" y="298"/><use href="#e" x="813.9" y="297.1"/><use href="#d" x="811.8" y="300.4"/><use href="#e" x="812.6" y="299.1"/><use href="#e" x="809.3" y="302"/><use href="#d" x="807.5" y="300.6"/><use href="#d" x="809.4" y="299.3"/><use href="#d" x="806" y="300"/>
</g>
<g fill="#ff8000">
<use href="#d" x="811" y="298.5"/><use href="#e" x="810.2" y="301.6"/><use href="#e" x="804.4" y="303.2"/><use href="#d" x="804.5" y="305.1"/><use href="#e" x="803.8" y="303.2"/><use href="#e" x="804.4" y="303.6"/><use href="#d" x="803.2" y="303.9"/><use href="#e" x="802.7" y="305.5"/><use href="#e" x="800.7" y="301.2"/><use href="#d" x="801.2" y="306.8"/><use href="#e" x="794.7" y="307.5"/><use href="#e" x="797.5" y="308.9"/><use href="#d" x="793.6" y="309.2"/><use href="#e" x="794" y="310.1"/><use href="#e" x="792.9" y="306.3"/><use href="#d" x="791.3" y="302.4"/><use href="#e" x="792.9" y="305.2"/><use href="#e" x="792.6" y="304.3"/><use href="#d" x="787.6" y="299.6"/><use href="#e" x="786.1" y="301.6"/><use href="#e" x="784.5" y="304.1"/><use href="#d" x="785.2" y="302.7"/><use href="#d" x="783.6" y="303.2"/><use href="#d" x="782.7" y="303.5"/>
</g>
<g fill="#ffff00">
<use href="#d" x="780.1" y="313.9"/><use href="#e" x="780.3" y="312.1"/><use href="#e" x="774.8" y="316.7"/><use href="#d" x="776.6" y="316.9"/><use href="#e" x="773" y="315.2"/><use href="#e" x="776.8" y="314.3"/><use href="#d" x="776.5" y="319.3"/><use href="#e" x="780.4" y="320.7"/><use href="#e" x="778" y="314.6"/><use href="#d" x="781.6" y="318"/><use href="#d" x="781" y="316"/>
</g>
<g fill="#80ff00">
<use href="#d" x="787.9" y="314.1"/><use href="#e" x="790.2" y="318.4"/><use href="#e" x="791.1" y="316.6"/><use href="#d" x="791.9" y="319.4"/><use href="#e" x="791.6" y="315.2"/><use href="#e" x="794.4" y="319.9"/><use href="#d" x="795" y="321.3"/><use href="#e" x="794.8" y="320.5"/><use href="#e" x="796.3" y="322.7"/><use href="#d" x="800.7" y="322.2"/><use href="#e" x="802.2" y="326.3"/><use href="#e" x="799.1" y="325.7"/><use href="#d" x="800.1" y="325.4"/><use href="#e" x="795.9" y="325"/><use href="#e" x="796.1" y="330.4"/><use href="#d" x="795.5" y="329.8"/><use href="#e" x="793.4" y="330.4"/><use href="#e" x="789.9" y="332.6"/><use href="#d" x="790.5" y="329.1"/><use href="#e" x="788.6" y="330"/><use href="#e" x="790.2" y="333.9"/><use href="#d" x="785.3" y="334.2"/><use href="#e" x="790" y="332.6"/><use href="#e" x="786.4" y="333.5"/><use href="#d" x="788.7" y="336.6"/><use href="#e" x="789.9" y="333.5"/><use href="#e" x="791.7" y="335.4"/><use href="#d" x="793.8" y="337.1"/><use href="#e" x="791.8" y="338.7"/><use href="#d" x="792.9" y="343.7"/><use href="#d" x="794.6" y="342.2"/>
</g>
<g fill="#00ff00">
<use href="#d" x="802" y="344.5"/><use href="#d" x="803.7" y="344.9"/><use href="#d" x="805.9" y="344.6"/><use href="#d" x="807.5" y="344.8"/><use href="#d" x="808.8" y="345.4"/><use href="#d" x="810.3" y="345.8"/><use href="#d" x="812.7" y="345.3"/><use href="#d" x="813.7" y="346.9"/><use href="#d" x="815.9" y="347.8"/><use href="#d" x="816.9" y="347.1"/><use href="#d" x="819.5" y="346.7"/><use href="#d" x="821.6" y="348.2"/><use href="#d" x="822.6" y="348.1"/><use href="#d" x="824.8" y="349"/><use href="#d" x="827" y="348.4"/><use href="#d" x="828.4" y="349.8"/><use href="#d" x="829.9" y="349.9"/><use href="#d" x="831.4" y="350.4"/><use href="#d" x="834.3" y="350.2"/><use href="#d" x="835.5" y="349.8"/><use href="#d" x="837.3" y="348.8"/><use href="#d" x="840.2" y="350.2"/><use href="#d" x="840.6" y="350.4"/><use href="#d" x="843.3" y="351.3"/><use href="#d" x="844.3" y="351.9"/><use href="#d" x="847.7" y="351.6"/><use href="#d" x="849.1" y="352.8"/><use href="#d" x="851.4" y="353.5"/><use href="#d" x="855" y="354.9"/><use href="#d" x="857.6" y="355.1"/><use href="#d" x="860.3" y="356.7"/><use href="#d" x="863.2" y="357.6"/><use href="#d" x="864.1" y="359.4"/><use href="#d" x="868.3" y="360.8"/><use href="#d" x="871.8" y="363.7"/><use href="#d" x="874.9" y="363.4"/><use href="#d" x="879.5" y="364"/><use href="#d" x="884.4" y="364.4"/><use href="#d" x="890" y="364.4"/><use href="#d" x="896.8" y="364.5"/><use href="#d" x="904.1" y="367.1"/><use href="#d" x="916.2" y="368.4"/>
</g>
<g fill="#ff0000">
<use href="#d" x="794.9" y="376.1"/><use href="#d" x="795.6" y="375.3"/><use href="#d" x="798" y="375.6"/><use href="#d" x="799.3" y="375.9"/><use href="#d" x="800.9" y="374.7"/><use href="#d" x="802.6" y="375.4"/><use href="#d" x="805.9" y="375.2"/><use href="#d" x="806" y="374.8"/><use href="#d" x="808.2" y="374.9"/><use href="#d" x="810.4" y="374.9"/><use href="#d" x="812.4" y="374.9"/><use href="#d" x="814.5" y="375.2"/><use href="#d" x="816.1" y="374.9"/><use href="#d" x="817.6" y="375.4"/><use href="#d" x="819.7" y="375"/><use href="#d" x="822.7" y="375.8"/><use href="#d" x="824.7" y="374.6"/><use href="#d" x="826.2" y="375"/><use href="#d" x="828.4" y="375.7"/><use href="#d" x="831.8" y="377.4"/><use href="#d" x="834.4" y="376.6"/><use href="#d" x="836.2" y="377.7"/><use href="#d" x="839.1" y="378.8"/><use href="#d" x="842" y="378.6"/><use href="#d" x="844.5" y="378.7"/><use href="#d" x="849" y="379.6"/><use href="#d" x="851.2" y="379.7"/><use href="#d" x="855.4" y="380.2"/><use href="#d" x="859.4" y="378.9"/><use href="#d" x="863.7" y="379.5"/><use href="#d" x="868.3" y="378.6"/><use href="#d" x="872.3" y="378.3"/><use href="#d" x="877.5" y="379.1"/><use href="#d" x="884" y="379.4"/><use href="#d" x="891.2" y="380.8"/><use href="#d" x="903.7" y="380.9"/><use href="#d" x="919.4" y="379.8"/>
</g>
<g fill="#00ff00">
<use href="#d" x="820.2" y="397.9"/><use href="#d" x="822.1" y="397.4"/><use href="#d" x="823.7" y="396.4"/><use href="#d" x="825.2" y="395.9"/><use href="#d" x="827.9" y="395.2"/><use href="#d" x="828.8" y="394.2"/><use href="#d" x="831.6" y="395.1"/><use href="#d" x="833.2" y="396.1"/><use href="#d" x="835.1" y="396.8"/><use href="#d" x="837.1" y="397"/><use href="#d" x="839.3" y="398"/><use href="#d" x="840.1" y="397.7"/><use href="#d" x="842.6" y="399.3"/><use href="#d" x="844.8" y="399.6"/><use href="#d" x="846.9" y="398.1"/><use href="#d" x="848.5" y="398"/><use href="#d" x="851.9" y="397.4"/><use href="#d" x="855.1" y="396.3"/><use href="#d" x="857.8" y="395.6"/><use href="#d" x="860.1" y="395.4"/><use href="#d" x="864" y="395.1"/><use href="#d" x="866.6" y="394"/><use href="#d" x="870.8" y="394"/><use href="#d" x="874.7" y="393.8"/><use href="#d" x="879.6" y="392"/><use href="#d" x="884.8" y="392.1"/><use href="#d" x="889.5" y="391.5"/><use href="#d" x="895.9" y="391.8"/><use href="#d" x="903.2" y="389.3"/><use href="#d" x="916.2" y="389.4"/>
</g>
<g fill="#00ff00">
<use href="#d" x="820.5" y="400.1"/><use href="#e" x="820" y="402.7"/><use href="#e" x="819.8" y="399.2"/><use href="#d" x="817.5" y="403.1"/><use href="#e" x="821.1" y="401.8"/><use href="#e" x="819.6" y="404.3"/><use href="#d" x="821.6" y="406.8"/><use href="#d" x="823" y="405"/>
</g>
<g fill="#80ff00">
<use href="#d" x="812.6" y="411.5"/><use href="#e" x="809.6" y="407.1"/><use href="#e" x="813.7" y="412.3"/><use href="#d" x="811.2" y="412.6"/><use href="#e" x="810.2" y="410.9"/><use href="#e" x="810.1" y="413.1"/><use href="#d" x="809" y="415"/><use href="#e" x="802.2" y="413"/><use href="#e" x="806.9" y="415.8"/><use href="#d" x="802.8" y="417.1"/><use href="#e" x="801.5" y="416.2"/><use href="#e" x="801.3" y="418.1"/><use href="#d" x="802.8" y="418.5"/><use href="#e" x="802.4" y="422.7"/><use href="#e" x="801.1" y="422.2"/><use href="#d" x="797" y="421.3"/><use href="#e" x="795.5" y="420.5"/><use href="#e" x="794.6" y="421.6"/><use href="#d" x="796.8" y="424.7"/><use href="#e" x="791.8" y="420.9"/><use href="#e" x="791.6" y="424.7"/><use href="#d" x="788.7" y="424.2"/><use href="#e" x="785.5" y="428.4"/><use href="#d" x="788.6" y="433.1"/><use href="#d" x="788.5" y="428.5"/>
</g>
<g fill="#ffff00">
<use href="#d" x="784.6" y="432.2"/><use href="#e" x="787.1" y="434.1"/><use href="#e" x="784.4" y="434.4"/><use href="#d" x="782.6" y="439.3"/><use href="#e" x="785.3" y="441"/><use href="#e" x="782.4" y="439.1"/><use href="#d" x="781.1" y="442.2"/><use href="#e" x="781.1" y="442.1"/><use href="#e" x="787.1" y="444.3"/><use href="#d" x="784.4" y="444.2"/><use href="#e" x="786.1" y="441.3"/><use href="#e" x="786.2" y="445.3"/><use href="#d" x="793.2" y="442.2"/><use href="#e" x="789.9" y="443"/><use href="#e" x="797.5" y="445.8"/><use href="#d" x="793" y="440.7"/><use href="#e" x="794.1" y="446.6"/><use href="#e" x="798.2" y="444.5"/><use href="#d" x="792.2" y="444.8"/><use href="#e" x="788.8" y="448.2"/><use href="#e" x="789.2" y="449.3"/><use href="#d" x="786.9" y="445.6"/><use href="#e" x="790.5" y="447.5"/><use href="#e" x="792.1" y="450.2"/><use href="#d" x="789" y="452.5"/><use href="#e" x="793.5" y="448.9"/><use href="#e" x="796.1" y="454.6"/><use href="#d" x="794.7" y="451.3"/><use href="#d" x="793.6" y="455.4"/>
</g>
<g fill="#ff8000">
<use href="#d" x="786.2" y="459.6"/><use href="#e" x="789.4" y="458.9"/><use href="#e" x="785.5" y="459.1"/><use href="#d" x="786.5" y="465"/><use href="#e" x="783.6" y="464.5"/><use href="#e" x="788.2" y="469.7"/><use href="#d" x="789.6" y="466.9"/><use href="#e" x="787.2" y="466.5"/><use href="#e" x="789.3" y="469.3"/><use href="#d" x="791.6" y="473"/><use href="#e" x="793.3" y="468.6"/><use href="#e" x="796.7" y="473.3"/><use href="#d" x="794.6" y="471.3"/><use href="#e" x="791.5" y="471.9"/><use href="#e" x="797.5" y="473.5"/><use href="#d" x="793.9" y="476.5"/><use href="#e" x="797.6" y="478.5"/><use href="#e" x="799.1" y="481.1"/><use href="#d" x="797.1" y="481.4"/><use href="#e" x="797.7" y="481.8"/><use href="#e" x="800.8" y="482"/><use href="#d" x="803.2" y="482.5"/><use href="#e" x="804.3" y="485.3"/><use href="#e" x="803.4" y="483.6"/><use href="#d" x="802.4" y="484.7"/><use href="#e" x="804" y="486.9"/><use href="#e" x="810.7" y="489.4"/><use href="#d" x="807.1" y="487.7"/><use href="#d" x="804.9" y="490"/><use href="#d" x="806.5" y="491.1"/>
</g>
<g fill="#ff0000">
<use href="#d" x="815.8" y="492.1"/><use href="#e" x="819.3" y="494.1"/><use href="#e" x="819.2" y="491.8"/><use href="#d" x="817.9" y="497.8"/><use href="#e" x="819.2" y="499.4"/><use href="#e" x="819.6" y="499.6"/><use href="#d" x="814.5" y="498.9"/><use href="#e" x="812.7" y="502.4"/><use href="#e" x="816.8" y="501.8"/><use href="#d" x="813.7" y="502"/><use href="#e" x="817.8" y="507.4"/><use href="#e" x="813.3" y="507.5"/><use href="#d" x="809" y="501.7"/><use href="#e" x="809.8" y="504"/><use href="#e" x="808.5" y="506.4"/><use href="#d" x="816.5" y="505.5"/><use href="#e" x="812" y="508"/><use href="#e" x="812.9" y="509.9"/><use href="#d" x="817.5" y="506.5"/><use href="#d" x="814.4" y="509"/>
</g>
<g fill="#ff0000">
<use href="#d" x="877.3" y="559.2"/><use href="#e" x="878.9" y="557.7"/><use href="#e" x="877.3" y="556.8"/><use href="#d" x="881.8" y="560.5"/><use href="#e" x="882.5" y="557.1"/><use href="#e" x="883.2" y="559.6"/><use href="#d" x="883.1" y="559.6"/><use href="#e" x="887.4" y="561.8"/><use href="#e" x="887.7" y="562"/><use href="#d" x="888.1" y="561.6"/><use href="#e" x="887.7" y="562.8"/><use href="#e" x="886.3" y="562.3"/><use href="#d" x="885" y="562.1"/><use href="#e" x="887" y="564.2"/><use href="#e" x="883.1" y="566.7"/><use href="#d" x="883.2" y="561.3"/><use href="#d" x="880.8" y="564.7"/><use href="#d" x="879.1" y="563.5"/>
</g>
<g fill="#ff8000">
<use href="#d" x="890.6" y="567.8"/><use href="#e" x="890.4" y="564.6"/><use href="#e" x="889.4" y="566.8"/><use href="#d" x="892.7" y="565.2"/><use href="#e" x="892.8" y="566.2"/><use href="#e" x="894.8" y="567.4"/><use href="#d" x="895.6" y="565.4"/><use href="#e" x="899.1" y="569.5"/><use href="#e" x="898.6" y="568.9"/><use href="#d" x="898.9" y="569.2"/><use href="#d" x="898" y="568.1"/><use href="#d" x="897" y="569.5"/>
</g>
<g fill="#ffff00">
<use href="#d" x="872" y="571.9"/><use href="#e" x="871.3" y="573.2"/><use href="#e" x="876.8" y="572.8"/><use href="#d" x="878" y="571.2"/><use href="#e" x="876.1" y="569.3"/><use href="#e" x="876.8" y="570.2"/><use href="#d" x="879.2" y="570.9"/><use href="#e" x="877.8" y="573.4"/><use href="#e" x="885.1" y="570.3"/><use href="#d" x="884.2" y="571.2"/><use href="#e" x="885" y="570.4"/><use href="#e" x="885.8" y="569.8"/><use href="#d" x="887.5" y="571.3"/><use href="#e" x="888.6" y="571"/><use href="#e" x="889.2" y="573.2"/><use href="#d" x="891" y="572.6"/><use href="#e" x="891.8" y="576.2"/><use href="#e" x="893.2" y="575.1"/><use href="#d" x="892.8" y="576.1"/><use href="#d" x="894" y="576.8"/>
</g>
<g fill="#80ff00">
<use href="#d" x="890" y="578.6"/><use href="#e" x="887.6" y="576.1"/><use href="#e" x="887.1" y="577.9"/><use href="#d" x="884.1" y="577.2"/><use href="#e" x="884" y="579.8"/><use href="#e" x="881.3" y="578"/><use href="#d" x="882.5" y="578.3"/><use href="#e" x="880.7" y="581.2"/><use href="#e" x="879.2" y="579.8"/><use href="#d" x="878.1" y="581.4"/><use href="#e" x="877.4" y="581.3"/><use href="#e" x="877.3" y="580.7"/><use href="#d" x="874.3" y="583.7"/><use href="#e" x="874.7" y="583.5"/><use href="#e" x="872.9" y="584.1"/><use href="#d" x="872" y="588"/><use href="#e" x="869.2" y="586.8"/><use href="#e" x="867.1" y="587.8"/><use href="#d" x="868.8" y="586.6"/><use href="#e" x="864.2" y="587.3"/><use href="#e" x="866" y="588.4"/><use href="#d" x="864.2" y="584.4"/><use href="#e" x="860.8" y="589.1"/><use href="#e" x="858.7" y="588.8"/><use href="#d" x="861.7" y="588.4"/><use href="#e" x="859.2" y="586.8"/><use href="#d" x="854.6" y="587.2"/><use href="#d" x="855.3" y="587.3"/>
</g>
<g fill="#00ff00">
<use href="#d" x="860.9" y="591.2"/><use href="#e" x="860.8" y="591.3"/><use href="#e" x="858.8" y="592.2"/><use href="#d" x="857.2" y="594.4"/><use href="#e" x="856.5" y="592.1"/><use href="#e" x="854.2" y="591.3"/><use href="#d" x="855.1" y="592.6"/><use href="#e" x="850.5" y="592.2"/><use href="#e" x="850.6" y="592.9"/><use href="#d" x="851.1" y="592.5"/><use href="#e" x="849" y="595"/><use href="#e" x="845.5" y="595.3"/><use href="#d" x="845.7" y="595.5"/><use href="#e" x="844" y="594.7"/><use href="#e" x="841" y="592.3"/><use href="#d" x="843.2" y="594.8"/><use href="#e" x="840.8" y="592"/><use href="#e" x="841.1" y="589.4"/><use href="#d" x="839.2" y="594"/><use href="#e" x="842.3" y="592.4"/><use href="#e" x="839.8" y="596.7"/><use href="#d" x="843.8" y="594.2"/><use href="#e" x="844.7" y="597.5"/><use href="#e" x="842.1" y="598.6"/><use href="#d" x="847.8" y="595"/><use href="#d" x="847.3" y="598.3"/>
</g>
<g fill="#00ffff">
<use href="#d" x="838.5" y="597.7"/><use href="#e" x="837.6" y="600.8"/><use href="#e" x="837.9" y="599.3"/><use href="#d" x="833.4" y="601.7"/><use href="#e" x="831.1" y="599.2"/><use href="#d" x="830.1" y="600.1"/><use href="#d" x="829.5" y="600.2"/>
</g>
<g fill="#0080ff">
<use href="#d" x="823.5" y="602.1"/><use href="#e" x="824.4" y="601.6"/><use href="#e" x="824.7" y="601.1"/><use href="#d" x="822.8" y="600.9"/><use href="#e" x="820.7" y="599"/><use href="#e" x="818.5" y="601.6"/><use href="#d" x="816.2" y="601"/><use href="#e" x="815.1" y="601"/><use href="#e" x="811.1" y="601.2"/><use href="#d" x="812.1" y="601.4"/><use href="#e" x="810" y="602"/><use href="#e" x="811.3" y="601.9"/><use href="#d" x="808.1" y="604.3"/><use href="#e" x="808.9" y="603.8"/><use href="#e" x="807.8" y="602.1"/><use href="#d" x="804.6" y="604.2"/><use href="#d" x="802.7" y="602.6"/><use href="#d" x="802.7" y="602.8"/>
</g>
<g fill="#0000ff">
<use href="#d" x="820.1" y="610.7"/><use href="#e" x="817.9" y="611.7"/><use href="#e" x="816.7" y="611.6"/><use href="#d" x="817.1" y="611.6"/><use href="#e" x="815.3" y="609.2"/><use href="#e" x="811.1" y="610.2"/><use href="#d" x="812.2" y="613.3"/><use href="#e" x="808.5" y="612"/><use href="#e" x="807.8" y="610.8"/><use href="#d" x="807.3" y="613.2"/><use href="#e" x="806.6" y="614.2"/><use href="#e" x="803.6" y="614.1"/><use href="#d" x="805" y="613.3"/><use href="#e" x="803" y="612.6"/><use href="#e" x="799.5" y="613"/><use href="#d" x="798.8" y="617.8"/><use href="#e" x="797.7" y="616.3"/><use href="#e" x="797.5" y="615"/><use href="#d" x="797.2" y="614.3"/><use href="#e" x="796.4" y="616.8"/><use href="#e" x="792" y="618"/><use href="#d" x="793.8" y="618.7"/><use href="#e" x="794.3" y="618.3"/><use href="#e" x="791.5" y="620.4"/><use href="#d" x="788.2" y="621.2"/><use href="#e" x="786.1" y="618"/><use href="#e" x="787.5" y="618.6"/><use href="#d" x="787.9" y="618.3"/><use href="#e" x="789.4" y="619.6"/><use href="#e" x="791" y="619.6"/><use href="#d" x="792.4" y="621.9"/><use href="#e" x="793.1" y="622.7"/><use href="#e" x="794.4" y="621"/><use href="#d" x="791.9" y="622.4"/><use href="#e" x="795.4" y="621.1"/><use href="#e" x="798.5" y="618.4"/><use href="#d" x="798.1" y="619.8"/><use href="#e" x="798.9" y="620.6"/><use href="#d" x="801.4" y="618.4"/><use href="#d" x="802.7" y="619.1"/>
</g>
<g fill="#ff0000">
<use href="#d" x="1073.6" y="589.7"/><use href="#e" x="1072.8" y="589.1"/><use href="#e" x="1073" y="585.3"/><use href="#d" x="1069.6" y="587.6"/><use href="#e" x="1070.2" y="588.4"/><use href="#e" x="1069.6" y="588.4"/><use href="#d" x="1066.6" y="586.3"/><use href="#e" x="1066.9" y="585.7"/><use href="#e" x="1066" y="583.8"/><use href="#d" x="1064.1" y="585.4"/><use href="#e" x="1059.2" y="586.7"/><use href="#e" x="1061" y="585"/><use href="#d" x="1057.8" y="584"/><use href="#e" x="1060.1" y="583.2"/><use href="#e" x="1051.8" y="582.8"/><use href="#d" x="1053.7" y="583.5"/><use href="#e" x="1053.5" y="582.4"/><use href="#e" x="1051.5" y="585.3"/><use href="#d" x="1049.3" y="586.7"/><use href="#e" x="1049.2" y="582.5"/><use href="#e" x="1049.7" y="584.9"/><use href="#d" x="1045.8" y="585.3"/><use href="#e" x="1043.4" y="583.1"/><use href="#e" x="1046.2" y="584.1"/><use href="#d" x="1041.4" y="585.3"/><use href="#e" x="1043.3" y="585.1"/><use href="#e" x="1038.2" y="585.2"/><use href="#d" x="1040.1" y="587.3"/><use href="#e" x="1040.9" y="586.4"/><use href="#e" x="1036.4" y="587.2"/><use href="#d" x="1037.6" y="586.6"/><use href="#e" x="1036.6" y="584.8"/><use href="#e" x="1034.7" y="588.4"/><use href="#d" x="1033.1" y="591.1"/><use href="#e" x="1029.7" y="590.7"/><use href="#e" x="1030.7" y="592.4"/><use href="#d" x="1029.4" y="591.5"/><use href="#e" x="1028.4" y="597.8"/><use href="#e" x="1031.2" y="595.2"/><use href="#d" x="1029.7" y="598.1"/><use href="#d" x="1031.4" y="600.1"/><use href="#d" x="1032.3" y="598.5"/>
</g>
<g fill="#ff8000">
<use href="#d" x="1024.6" y="603.4"/><use href="#e" x="1024.4" y="603.2"/><use href="#e" x="1022.9" y="605.3"/><use href="#d" x="1021.6" y="607.5"/><use href="#e" x="1022.8" y="610.4"/><use href="#e" x="1017" y="607.2"/><use href="#d" x="1019" y="607.4"/><use href="#e" x="1019.6" y="608.4"/><use href="#e" x="1017.7" y="607"/><use href="#d" x="1017" y="608"/><use href="#e" x="1012.4" y="607"/><use href="#e" x="1011.7" y="605.6"/><use href="#d" x="1012.5" y="607.2"/><use href="#e" x="1011.1" y="605.8"/><use href="#e" x="1009.3" y="605.6"/><use href="#d" x="1008.8" y="607.8"/><use href="#e" x="1009.3" y="608.5"/><use href="#e" x="1004.4" y="605.9"/><use href="#d" x="1002.9" y="606.9"/><use href="#e" x="1005.7" y="607.6"/><use href="#e" x="998.5" y="605.2"/><use href="#d" x="998.5" y="608.1"/><use href="#e" x="999" y="608.1"/><use href="#d" x="1000.2" y="606.9"/><use href="#d" x="996.6" y="608.4"/>
</g>
<g fill="#ffff00">
<use href="#d" x="994.4" y="615.2"/><use href="#e" x="997.4" y="611.5"/><use href="#e" x="995.4" y="610.6"/><use href="#d" x="996.2" y="613"/><use href="#e" x="1001" y="614.5"/><use href="#e" x="1002.1" y="612.3"/><use href="#d" x="1002.6" y="616.1"/><use href="#e" x="1002.5" y="614.1"/><use href="#e" x="1006.3" y="615"/><use href="#d" x="1007" y="615.2"/><use href="#e" x="1010" y="614.7"/><use href="#d" x="1009.5" y="615"/><use href="#d" x="1010.5" y="615.4"/>
</g>
<g fill="#80ff00">
<use href="#d" x="1006.1" y="619"/><use href="#e" x="1005.7" y="619.5"/><use href="#e" x="1006.7" y="620.9"/><use href="#d" x="1002.8" y="619.7"/><use href="#e" x="1002.5" y="619.8"/><use href="#e" x="1000.8" y="619"/><use href="#d" x="998.8" y="617.4"/><use href="#e" x="999.3" y="620.2"/><use href="#e" x="997.7" y="618.9"/><use href="#d" x="995.8" y="617.7"/><use href="#e" x="991.6" y="619.2"/><use href="#e" x="993" y="617.5"/><use href="#d" x="990" y="620.1"/><use href="#e" x="987.5" y="620.8"/><use href="#e" x="989.5" y="621.6"/><use href="#d" x="986.3" y="618.3"/><use href="#e" x="985.3" y="618.9"/><use href="#e" x="984.4" y="617.9"/><use href="#d" x="984.9" y="618.2"/><use href="#e" x="981.3" y="620.3"/><use href="#e" x="980" y="619.2"/><use href="#d" x="979.9" y="619.6"/><use href="#e" x="976.8" y="620.8"/><use href="#d" x="977.8" y="624.6"/><use href="#d" x="977.7" y="623.3"/>
</g>
<g fill="#00ff00">
<use href="#d" x="984.2" y="626.7"/><use href="#e" x="983.4" y="625.5"/><use href="#e" x="982.9" y="627.1"/><use href="#d" x="983.4" y="629.8"/><use href="#e" x="980.2" y="629.9"/><use href="#e" x="982.6" y="630.2"/><use href="#d" x="980.8" y="631.5"/><use href="#e" x="982.4" y="631.9"/><use href="#d" x="982.9" y="633.5"/><use href="#d" x="983.7" y="633.2"/>
</g>
<g fill="#00ffff">
<use href="#d" x="995.2" y="629.9"/><use href="#e" x="994.7" y="629.7"/><use href="#e" x="998.3" y="627"/><use href="#d" x="999.7" y="626.4"/><use href="#e" x="999.8" y="629.1"/><use href="#e" x="1002.4" y="628.7"/><use href="#d" x="1001" y="627.2"/><use href="#d" x="1001.3" y="629.4"/><use href="#d" x="1003.5" y="628.3"/>
</g>
<g fill="#0080ff">
<use href="#d" x="988.3" y="632.2"/><use href="#e" x="989.8" y="633.4"/><use href="#e" x="989" y="635.1"/><use href="#d" x="992.4" y="639"/><use href="#d" x="990.6" y="638.2"/>
</g>
<g fill="#0000ff">
<use href="#d" x="999.4" y="631"/><use href="#e" x="1001.3" y="633.4"/><use href="#e" x="1002.8" y="634.3"/><use href="#d" x="1003.2" y="634.9"/><use href="#e" x="1006.1" y="634"/><use href="#e" x="1005.7" y="633.2"/><use href="#d" x="1008.6" y="632.5"/><use href="#e" x="1008.8" y="633.1"/><use href="#e" x="1008.3" y="635.3"/><use href="#d" x="1011.5" y="635"/><use href="#e" x="1014" y="633.4"/><use href="#e" x="1014" y="636.3"/><use href="#d" x="1016.5" y="634.9"/><use href="#e" x="1017.6" y="637.2"/><use href="#e" x="1018.8" y="639"/><use href="#d" x="1016.5" y="640.9"/><use href="#e" x="1014.5" y="637.9"/><use href="#e" x="1012.8" y="637.7"/><use href="#d" x="1012" y="636.9"/><use href="#e" x="1010.7" y="640.8"/><use href="#e" x="1011.3" y="640.7"/><use href="#d" x="1011" y="641.3"/><use href="#e" x="1008" y="640.7"/><use href="#e" x="1006.2" y="642.9"/><use href="#d" x="1008" y="644.2"/><use href="#e" x="1003.2" y="643.8"/><use href="#e" x="1004.1" y="642.2"/><use href="#d" x="1002.2" y="641.7"/><use href="#e" x="1000.2" y="639.2"/><use href="#e" x="999.5" y="642.9"/><use href="#d" x="1000.4" y="641.3"/><use href="#e" x="996.2" y="642"/><use href="#e" x="997.3" y="643.4"/><use href="#d" x="994" y="644"/><use href="#e" x="993.4" y="644.8"/><use href="#e" x="994.2" y="641.4"/><use href="#d" x="996" y="643.8"/><use href="#e" x="995.5" y="641.9"/><use href="#e" x="999.4" y="640.8"/><use href="#d" x="998.5" y="643.4"/><use href="#e" x="1001.7" y="641.4"/><use href="#e" x="1000.4" y="641.5"/><use href="#d" x="1000.6" y="637.9"/><use href="#d" x="1003.5" y="638.2"/>
</g>
<circle cx="1070.7" cy="382.5" r="2.8" fill="#f00"/>
<path d="M1059.2,173.9C1055.2,173.8 1051.1,173.6 1047.1,173.5M1036.6,173.2C1032.7,173.1 1028.7,173.1 1024.8,173.2M1014.8,173.5C1010.9,173.8 1007.1,174.4 1003.2,174.8M993.1,175.6C989,176.1 985,177 981,177.6M971.3,178.9C967.2,179.6 963.3,180.8 959.2,181.6M949.5,183.2C945.7,184.2 942,185.6 938.2,186.8M928.7,190C924.7,191.4 920.6,192.7 916.7,194.3M908.7,198.2C905.2,199.8 901.6,201 898.2,202.7M890.2,207.4C886.7,209.3 882.9,210.8 879.4,212.7M872.4,217.1C868.9,219.3 865.3,221.2 861.9,223.5M855.2,228.9C852,231.4 848.6,233.5 845.5,236.1M840.2,241.3C837.2,244.1 834,246.6 831,249.4M826.1,254.7C823.5,257.6 820.8,260.5 818.4,263.5M813.9,270C811.8,273 809.5,275.9 807.4,278.9M803,285.7C801.2,288.5 799.6,291.3 797.8,294M793.2,301C791.4,304.4 790,308 788.4,311.5M785.6,317.9C784.5,321.3 783.9,324.9 783.1,328.4M781.9,334.8C781.2,338.3 780.1,341.8 779.5,345.3M778.7,352.6C778.3,356.1 777.8,359.6 777.4,363.1M776.8,370.3C776.8,373.8 777.1,377.3 777.4,380.8M778.2,387.7C778.7,391 779.4,394.3 779.8,397.7M780.2,404.7C780.9,408.3 782.4,411.7 783.4,415.2M785,422.4C786.1,425.8 787.7,429.1 789,432.4M791,437.7C792.5,441.2 794.2,444.7 795.8,448.2M798.7,454.7C800.5,458 802.5,461.2 804.4,464.4M807.6,470C809.7,473.3 811.8,476.5 814,479.7M818.9,486.1C821.3,489.1 823.7,492.1 826.1,495M831,500.6C833.6,503.4 836.3,506.1 839,508.7M845.2,514.4C848.3,517.1 851.4,519.8 854.5,522.5M860.2,527.4C863.6,530 867.2,532.2 870.6,534.7M876.3,539.5C879.9,541.9 883.9,543.7 887.6,546M894,550.8C897.6,553 901.6,554.5 905.3,556.5M912.6,560.5C916.3,562.3 920.2,563.5 923.9,565.3M931.1,569.4C935,571.2 939.2,572.6 943.2,574.2M951.5,577.5C955.6,578.9 959.8,580.2 964,581.5M972.5,584C976.5,585.1 980.5,586.3 984.5,587.3M993.4,589C997.5,589.9 1001.4,591.1 1005.5,591.9M1015.4,593.1C1019.7,593.6 1024,594.3 1028.3,594.7M1040.2,595.5C1042.2,595.6 1044.2,595.8 1046.2,595.9M1057.1,596.3C1062.4,596.4 1067.7,596.4 1073,596.5" fill="none" stroke="#000" stroke-width="3"/>
<g stroke="#000" fill="none">
<rect x="688.8" y="53.1" width="480.9" height="651.3" stroke-width="3.3"/>
<path d="M742.2,704.4 v-11.8 M795.7,704.4 v-5.9 M849.1,704.4 v-11.8 M902.5,704.4 v-5.9 M956,704.4 v-11.8 M1009.4,704.4 v-5.9 M1062.8,704.4 v-11.8 M1116.3,704.4 v-5.9 M688.8,685.2 h11.8 M688.8,646.9 h5.9 M688.8,608.6 h11.8 M688.8,570.3 h5.9 M688.8,532 h11.8 M688.8,493.7 h5.9 M688.8,455.4 h11.8 M688.8,417.1 h5.9 M688.8,378.8 h11.8 M688.8,340.4 h5.9 M688.8,302.1 h11.8 M688.8,263.8 h5.9 M688.8,225.5 h11.8 M688.8,187.2 h5.9 M688.8,148.9 h11.8 M688.8,110.6 h5.9 M688.8,72.3 h11.8" stroke-linecap="round" stroke-width="2.9"/>
</g>
<g font-family="Liberation Sans, sans-serif" font-weight="bold" font-size="37.8" fill="#000">
<text x="674.6" y="695.4" text-anchor="end">-16</text>
<text x="674.6" y="618.8" text-anchor="end">-12</text>
<text x="674.6" y="542.2" text-anchor="end">-8</text>
<text x="674.6" y="465.6" text-anchor="end">-4</text>
<text x="674.6" y="388.9" text-anchor="end">0</text>
<text x="674.6" y="312.3" text-anchor="end">4</text>
<text x="674.6" y="235.7" text-anchor="end">8</text>
<text x="674.6" y="159.1" text-anchor="end">12</text>
<text x="674.6" y="82.5" text-anchor="end">16</text>
<text x="741.4" y="745" text-anchor="middle">-12</text>
<text x="848.3" y="745" text-anchor="middle">-8</text>
<text x="955.2" y="745" text-anchor="middle">-4</text>
<text x="1062" y="745" text-anchor="middle">0</text>
<text x="1168.9" y="745" text-anchor="middle">4</text>
<text x="704" y="797.4" font-size="37.45">Relative x coordinate (<tspan font-weight="normal" font-family="Liberation Serif, serif" font-size="36" stroke="#000" stroke-width=".5">μ</tspan>m)</text>
<text transform="translate(620.8 585.4) rotate(-90) scale(1.041 1)" font-size="37.3">Relative y coordinate (<tspan font-weight="normal" font-family="Liberation Serif, serif" font-size="36" stroke="#000" stroke-width=".5">μ</tspan>m)</text>
</g>
<text x="716" y="673" font-family="Liberation Sans, sans-serif" font-size="40" fill="#222" textLength="48.5" lengthAdjust="spacingAndGlyphs">(b)</text>
<rect x="1191.1" y="53.9" width="41.8" height="11.6" fill="#808080"/>
<rect x="1191.1" y="65.4" width="41.8" height="14" fill="#0000ff"/>
<rect x="1191.1" y="78.2" width="41.8" height="14" fill="#000bff"/>
<rect x="1191.1" y="91" width="41.8" height="14" fill="#001aff"/>
<rect x="1191.1" y="103.8" width="41.8" height="14" fill="#002bff"/>
<rect x="1191.1" y="116.6" width="41.8" height="14" fill="#003eff"/>
<rect x="1191.1" y="129.4" width="41.8" height="14" fill="#0052ff"/>
<rect x="1191.1" y="142.2" width="41.8" height="14" fill="#0066ff"/>
<rect x="1191.1" y="155" width="41.8" height="14" fill="#007cff"/>
<rect x="1191.1" y="167.8" width="41.8" height="14" fill="#0093ff"/>
<rect x="1191.1" y="180.6" width="41.8" height="14" fill="#00aaff"/>
<rect x="1191.1" y="193.4" width="41.8" height="14" fill="#00c2ff"/>
<rect x="1191.1" y="206.2" width="41.8" height="14" fill="#00dbff"/>
<rect x="1191.1" y="219" width="41.8" height="14" fill="#00f4ff"/>
<rect x="1191.1" y="231.8" width="41.8" height="14" fill="#00fff2"/>
<rect x="1191.1" y="244.6" width="41.8" height="14" fill="#00ffdb"/>
<rect x="1191.1" y="257.4" width="41.8" height="14" fill="#00ffc3"/>
<rect x="1191.1" y="270.2" width="41.8" height="14" fill="#00ffac"/>
<rect x="1191.1" y="283" width="41.8" height="14" fill="#00ff95"/>
<rect x="1191.1" y="295.8" width="41.8" height="14" fill="#00ff7d"/>
<rect x="1191.1" y="308.6" width="41.8" height="14" fill="#00ff66"/>
<rect x="1191.1" y="321.4" width="41.8" height="14" fill="#00ff4f"/>
<rect x="1191.1" y="334.2" width="41.8" height="14" fill="#00ff38"/>
<rect x="1191.1" y="347" width="41.8" height="14" fill="#00ff20"/>
<rect x="1191.1" y="359.8" width="41.8" height="14" fill="#00ff09"/>
<rect x="1191.1" y="372.6" width="41.8" height="14" fill="#0dff00"/>
<rect x="1191.1" y="385.5" width="41.8" height="14" fill="#22ff00"/>
<rect x="1191.1" y="398.3" width="41.8" height="14" fill="#37ff00"/>
<rect x="1191.1" y="411.1" width="41.8" height="14" fill="#4cff00"/>
<rect x="1191.1" y="423.9" width="41.8" height="14" fill="#61ff00"/>
<rect x="1191.1" y="436.7" width="41.8" height="14" fill="#76ff00"/>
<rect x="1191.1" y="449.5" width="41.8" height="14" fill="#8bff00"/>
<rect x="1191.1" y="462.3" width="41.8" height="14" fill="#a0ff00"/>
<rect x="1191.1" y="475.1" width="41.8" height="14" fill="#b5ff00"/>
<rect x="1191.1" y="487.9" width="41.8" height="14" fill="#caff00"/>
<rect x="1191.1" y="500.7" width="41.8" height="14" fill="#dfff00"/>
<rect x="1191.1" y="513.5" width="41.8" height="14" fill="#f3ff00"/>
<rect x="1191.1" y="526.3" width="41.8" height="14" fill="#fff600"/>
<rect x="1191.1" y="539.1" width="41.8" height="14" fill="#ffe100"/>
<rect x="1191.1" y="551.9" width="41.8" height="14" fill="#ffcd00"/>
<rect x="1191.1" y="564.7" width="41.8" height="14" fill="#ffb800"/>
<rect x="1191.1" y="577.5" width="41.8" height="14" fill="#ffa400"/>
<rect x="1191.1" y="590.3" width="41.8" height="14" fill="#ff8f00"/>
<rect x="1191.1" y="603.1" width="41.8" height="14" fill="#ff7b00"/>
<rect x="1191.1" y="615.9" width="41.8" height="14" fill="#ff6600"/>
<rect x="1191.1" y="628.7" width="41.8" height="14" fill="#ff5200"/>
<rect x="1191.1" y="641.5" width="41.8" height="14" fill="#ff3d00"/>
<rect x="1191.1" y="654.3" width="41.8" height="14" fill="#ff2900"/>
<rect x="1191.1" y="667.1" width="41.8" height="14" fill="#ff1400"/>
<rect x="1191.1" y="679.9" width="41.8" height="12.8" fill="#ff0000"/>
<rect x="1191.1" y="692.7" width="41.8" height="11.8" fill="#000"/>
<g font-family="Liberation Sans, sans-serif" font-weight="bold" fill="#000" font-size="36">
<text x="1184.5" y="29" textLength="19" lengthAdjust="spacingAndGlyphs">T</text>
<text x="1202" y="37.8" font-weight="normal" font-size="24" textLength="44.5" lengthAdjust="spacingAndGlyphs">max</text>
<text x="1247" y="29" textLength="18" lengthAdjust="spacingAndGlyphs">=</text>
<text x="1273" y="29" textLength="70" lengthAdjust="spacingAndGlyphs">144s</text>
<text x="1201.5" y="741.3" textLength="23" lengthAdjust="spacingAndGlyphs">T</text>
<text x="1224.5" y="749.8" font-weight="normal" font-size="25" textLength="15" lengthAdjust="spacingAndGlyphs">0</text>
<text x="1239.5" y="741.3" textLength="21" lengthAdjust="spacingAndGlyphs">=</text>
<text x="1270.5" y="741.3" textLength="40" lengthAdjust="spacingAndGlyphs">0s</text>
</g>
</svg>
</body></html>
